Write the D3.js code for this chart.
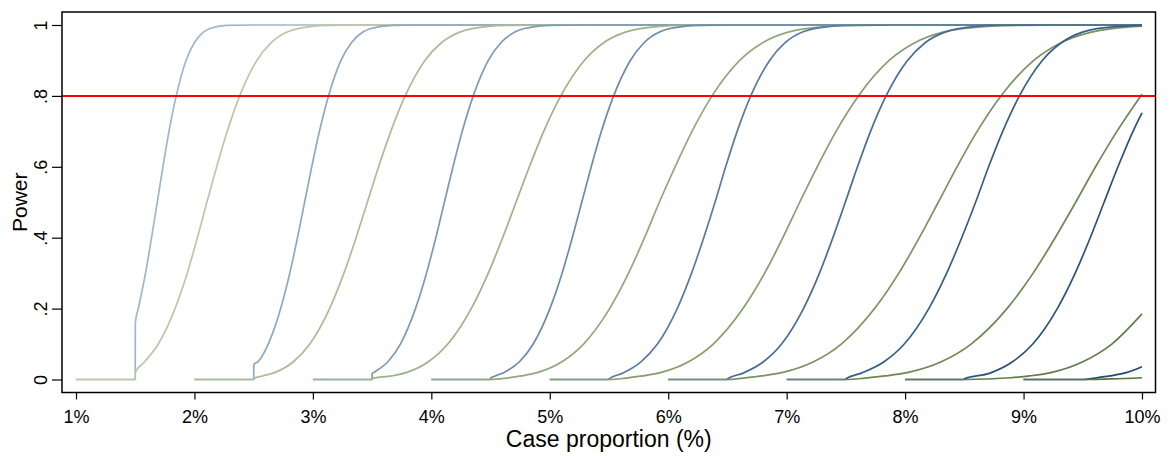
<!DOCTYPE html>
<html>
<head>
<meta charset="utf-8">
<script src="https://cdn.jsdelivr.net/npm/d3@7"></script>
<style>
  body { margin: 0; background: #fff; }
  text { font-family: "Liberation Sans", Arial, sans-serif; fill: #000; }
</style>
</head>
<body>
<div id="container"></div>
<script>
const width = 1173;
const height = 456;
const frame = { left: 62, top: 12, right: 1155.5, bottom: 392.5 };

// x ticks (case proportion, %) and y ticks (power)
const xTicks = [1, 2, 3, 4, 5, 6, 7, 8, 9, 10];
const yTicks = [0, 0.2, 0.4, 0.6, 0.8, 1];
const yTickLabels = ["0", ".2", ".4", ".6", ".8", "1"];
const targetPower = 0.8;

// steep (blue) curves, one per starting proportion: [case proportion %, power]
const blue1 = [[1,0],[1.5,0],[1.501,0.16],[1.526,0.2],[1.587,0.3],[1.638,0.4],[1.686,0.5],[1.734,0.6],[1.785,0.7],[1.846,0.8],[1.929,0.9],[1.999,0.95],[2.076,0.98],[2.129,0.99],[2.27,0.999],[2.5,1],[10,1]];
const blue2 = [[2,0],[2.5,0],[2.501,0.042],[2.535,0.05],[2.623,0.1],[2.728,0.2],[2.805,0.3],[2.87,0.4],[2.93,0.5],[2.99,0.6],[3.055,0.7],[3.132,0.8],[3.237,0.9],[3.325,0.95],[3.422,0.98],[3.49,0.99],[3.67,0.999],[3.9,1],[10,1]];
const blue3 = [[3,0],[3.5,0],[3.501,0.017],[3.515,0.02],[3.633,0.05],[3.739,0.1],[3.866,0.2],[3.959,0.3],[4.038,0.4],[4.11,0.5],[4.183,0.6],[4.261,0.7],[4.354,0.8],[4.481,0.9],[4.587,0.95],[4.705,0.98],[4.786,0.99],[5.006,0.999],[5.3,1],[10,1]];
const blue4 = [[4,0],[4.5,0],[4.501,0.004],[4.54,0.01],[4.614,0.02],[4.744,0.05],[4.86,0.1],[5.001,0.2],[5.104,0.3],[5.19,0.4],[5.27,0.5],[5.35,0.6],[5.436,0.7],[5.539,0.8],[5.68,0.9],[5.796,0.95],[5.926,0.98],[6.016,0.99],[6.259,0.999],[6.6,1],[10,1]];
const blue5 = [[5,0],[5.5,0],[5.501,0.002],[5.616,0.018],[5.77,0.05],[5.909,0.1],[6.076,0.2],[6.197,0.3],[6.3,0.4],[6.395,0.5],[6.485,0.6],[6.582,0.7],[6.697,0.8],[6.856,0.9],[6.987,0.95],[7.133,0.98],[7.234,0.99],[7.507,0.999],[7.9,1],[10,1]];
const blue6 = [[6,0],[6.5,0],[6.501,0.002],[6.633,0.018],[6.804,0.05],[6.957,0.1],[7.142,0.2],[7.277,0.3],[7.39,0.4],[7.495,0.5],[7.598,0.6],[7.708,0.7],[7.839,0.8],[8.02,0.9],[8.169,0.95],[8.336,0.98],[8.45,0.99],[8.762,0.999],[9.2,1],[10,1]];
const blue7 = [[7,0],[7.5,0],[7.501,0.002],[7.631,0.018],[7.822,0.05],[7.993,0.1],[8.2,0.2],[8.351,0.3],[8.478,0.4],[8.595,0.5],[8.705,0.6],[8.824,0.7],[8.965,0.8],[9.158,0.9],[9.319,0.95],[9.497,0.98],[9.62,0.99],[10,0.999]];
const blue8 = [[8,0],[8.5,0],[8.501,0.002],[8.716,0.018],[8.907,0.05],[9.078,0.1],[9.285,0.2],[9.436,0.3],[9.563,0.4],[9.68,0.5],[9.797,0.6],[9.924,0.7],[10,0.752]];
const blue9 = [[9,0],[9.5,0],[9.6,0.004],[9.728,0.01],[9.874,0.02],[10,0.036]];

// shallow (green) curves
const green1 = [[1,0],[1.5,0],[1.501,0.02],[1.579,0.05],[1.695,0.1],[1.836,0.2],[1.939,0.3],[2.025,0.4],[2.105,0.5],[2.188,0.6],[2.277,0.7],[2.382,0.8],[2.527,0.9],[2.648,0.95],[2.782,0.98],[2.874,0.99],[3.125,0.999],[3.4,1],[10,1]];
const green2 = [[2,0],[2.5,0],[2.501,0.003],[2.575,0.01],[2.681,0.02],[2.835,0.05],[2.974,0.1],[3.141,0.2],[3.262,0.3],[3.365,0.4],[3.46,0.5],[3.555,0.6],[3.658,0.7],[3.779,0.8],[3.946,0.9],[4.085,0.95],[4.239,0.98],[4.345,0.99],[4.63,0.999],[5,1],[10,1]];
const green3 = [[3,0],[3.5,0],[3.501,0.003],[3.666,0.01],[3.793,0.02],[3.975,0.05],[4.139,0.1],[4.337,0.2],[4.481,0.3],[4.602,0.4],[4.715,0.5],[4.828,0.6],[4.949,0.7],[5.093,0.8],[5.291,0.9],[5.455,0.95],[5.638,0.98],[5.764,0.99],[6.105,0.999],[6.6,1],[10,1]];
const green4 = [[4,0],[4.5,0],[4.637,0.004],[4.76,0.01],[4.9,0.02],[5.103,0.05],[5.285,0.1],[5.505,0.2],[5.665,0.3],[5.8,0.4],[5.925,0.5],[6.058,0.6],[6.201,0.7],[6.37,0.8],[6.603,0.9],[6.797,0.95],[7.012,0.98],[7.16,0.99],[7.563,0.999],[8.1,1],[10,1]];
const green5 = [[5,0],[5.5,0],[5.642,0.004],[5.782,0.01],[5.942,0.02],[6.172,0.05],[6.38,0.1],[6.631,0.2],[6.814,0.3],[6.968,0.4],[7.11,0.5],[7.258,0.6],[7.417,0.7],[7.606,0.8],[7.865,0.9],[8.081,0.95],[8.32,0.98],[8.485,0.99],[8.933,0.999],[9.5,1],[10,1]];
const green6 = [[6,0],[6.5,0],[6.631,0.004],[6.789,0.01],[6.968,0.02],[7.227,0.05],[7.461,0.1],[7.742,0.2],[7.947,0.3],[8.12,0.4],[8.28,0.5],[8.438,0.6],[8.608,0.7],[8.809,0.8],[9.086,0.9],[9.316,0.95],[9.572,0.98],[9.748,0.99],[10,0.997]];
const green7 = [[7,0],[7.5,0],[7.663,0.004],[7.832,0.01],[8.026,0.02],[8.305,0.05],[8.557,0.1],[8.86,0.2],[9.081,0.3],[9.267,0.4],[9.44,0.5],[9.608,0.6],[9.788,0.7],[10,0.805]];
const green8 = [[8,0],[8.5,0],[8.89,0.005],[9.05,0.01],[9.24,0.02],[9.5,0.05],[9.745,0.1],[10,0.185]];
const green9 = [[9,0],[9.5,0],[9.75,0.0015],[10,0.005]];

const blueCurves = [blue1, blue2, blue3, blue4, blue5, blue6, blue7, blue8, blue9];
const greenCurves = [green1, green2, green3, green4, green5, green6, green7, green8, green9];

const blueColors = ["#a3b5c9","#90a7c0","#7e99b7","#6b8aac","#5a7ba0","#486c94","#375e88","#2b517d","#234a75"];
const greenColors = ["#bac8a7","#abbc96","#9eb287","#92a87a","#869d6d","#7b9261","#6e8755","#637d49","#5a743f"];

let svg;
let xScale;
let yScale;

init();

function init() {
  xScale = d3.scaleLinear()
    .domain([1, 10])
    .range([76, 1142]);

  yScale = d3.scaleLinear()
    .domain([0, 1])
    .range([379.5, 25]);

  svg = d3.select("#container")
    .append("svg")
    .attr("width", width)
    .attr("height", height);

  draw();
}

function draw() {
  const line = d3.line()
    .x(d => xScale(d[0]))
    .y(d => yScale(d[1]))
    .curve(d3.curveMonotoneX);

  // blue then green for each start, so the green flat part sits on top
  const series = [];
  blueCurves.forEach((c, i) => {
    series.push({ pts: c, color: blueColors[i] });
    series.push({ pts: greenCurves[i], color: greenColors[i] });
  });

  svg.append("g")
    .selectAll("path")
    .data(series)
    .join("path")
    .attr("d", d => line(d.pts))
    .attr("fill", "none")
    .attr("stroke", d => d.color)
    .attr("stroke-width", 1.7)
    .attr("stroke-linejoin", "round");

  // 80% power reference line
  svg.append("line")
    .attr("x1", frame.left)
    .attr("x2", frame.right)
    .attr("y1", yScale(targetPower))
    .attr("y2", yScale(targetPower))
    .attr("stroke", "#ff0000")
    .attr("stroke-width", 2);

  // plot frame
  svg.append("rect")
    .attr("x", frame.left)
    .attr("y", frame.top)
    .attr("width", frame.right - frame.left)
    .attr("height", frame.bottom - frame.top)
    .attr("fill", "none")
    .attr("stroke", "#000")
    .attr("stroke-width", 1.5);

  const xAxis = d3.axisBottom(xScale)
    .tickValues(xTicks)
    .tickSize(7)
    .tickPadding(11)
    .tickFormat(d => d + "%");

  const gx = svg.append("g")
    .attr("transform", `translate(0,${frame.bottom})`)
    .call(xAxis);
  gx.select(".domain").remove();
  gx.selectAll(".tick line").attr("stroke", "#000").attr("stroke-width", 1.2);
  gx.selectAll(".tick text")
    .attr("font-size", 18)
    .attr("font-family", "Liberation Sans, Arial, sans-serif")
    .attr("fill", "#000");

  const yAxis = d3.axisLeft(yScale)
    .tickValues(yTicks)
    .tickSize(10)
    .tickFormat((d, i) => yTickLabels[i]);

  const gy = svg.append("g")
    .attr("transform", `translate(${frame.left},0)`)
    .call(yAxis);
  gy.select(".domain").remove();
  gy.selectAll(".tick line").attr("stroke", "#000").attr("stroke-width", 1.2);
  gy.selectAll(".tick text")
    .attr("font-size", 18)
    .attr("font-family", "Liberation Sans, Arial, sans-serif")
    .attr("fill", "#000")
    .attr("x", null)
    .attr("dy", null)
    .attr("text-anchor", "middle")
    .attr("transform", "translate(-15,0) rotate(-90)");

  svg.append("text")
    .attr("x", (frame.left + frame.right) / 2)
    .attr("y", 447)
    .attr("text-anchor", "middle")
    .attr("font-size", 23)
    .text("Case proportion (%)");

  svg.append("text")
    .attr("transform", `translate(26.5,${(frame.top + frame.bottom) / 2}) rotate(-90)`)
    .attr("text-anchor", "middle")
    .attr("font-size", 21)
    .text("Power");
}
</script>
</body>
</html>
